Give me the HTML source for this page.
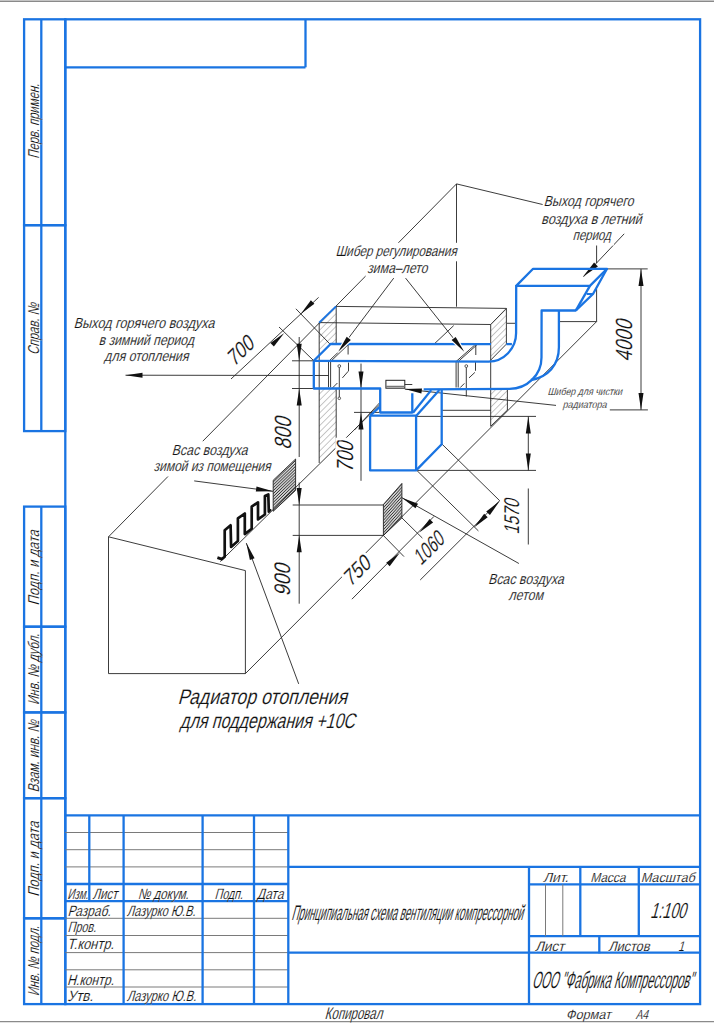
<!DOCTYPE html>
<html><head><meta charset="utf-8"><style>
html,body{margin:0;padding:0;background:#fff;width:714px;height:1024px;overflow:hidden}
svg{position:absolute;left:0;top:0}
text{font-family:"Liberation Sans",sans-serif;stroke:#fff;stroke-width:0.15px;paint-order:fill}
</style></head><body>
<svg width="714" height="1024" viewBox="0 0 714 1024">
<line x1="0" y1="1.3" x2="714" y2="1.3" stroke="#8a8a8a" stroke-width="1.4"/>
<line x1="0" y1="1021.6" x2="714" y2="1021.6" stroke="#8a8a8a" stroke-width="1.4"/>
<rect x="65.3" y="19.3" width="634.8000000000001" height="984.8000000000001" fill="none" stroke="#1a74e2" stroke-width="2.3"/>
<line x1="65.3" y1="67.3" x2="305.5" y2="67.3" stroke="#1a74e2" stroke-width="2.3"/>
<line x1="305.5" y1="19.3" x2="305.5" y2="67.3" stroke="#1a74e2" stroke-width="2.3"/>
<rect x="24.1" y="19.3" width="41.199999999999996" height="205.89999999999998" fill="none" stroke="#1a74e2" stroke-width="2.3"/>
<line x1="41.3" y1="19.3" x2="41.3" y2="225.2" stroke="#1a74e2" stroke-width="2.3"/>
<rect x="24.1" y="225.2" width="41.199999999999996" height="205.90000000000003" fill="none" stroke="#1a74e2" stroke-width="2.3"/>
<line x1="41.3" y1="225.2" x2="41.3" y2="431.1" stroke="#1a74e2" stroke-width="2.3"/>
<rect x="24.1" y="506.6" width="41.199999999999996" height="120.10000000000002" fill="none" stroke="#1a74e2" stroke-width="2.3"/>
<line x1="41.3" y1="506.6" x2="41.3" y2="626.7" stroke="#1a74e2" stroke-width="2.3"/>
<rect x="24.1" y="626.7" width="41.199999999999996" height="85.69999999999993" fill="none" stroke="#1a74e2" stroke-width="2.3"/>
<line x1="41.3" y1="626.7" x2="41.3" y2="712.4" stroke="#1a74e2" stroke-width="2.3"/>
<rect x="24.1" y="712.4" width="41.199999999999996" height="85.80000000000007" fill="none" stroke="#1a74e2" stroke-width="2.3"/>
<line x1="41.3" y1="712.4" x2="41.3" y2="798.2" stroke="#1a74e2" stroke-width="2.3"/>
<rect x="24.1" y="798.2" width="41.199999999999996" height="120.09999999999991" fill="none" stroke="#1a74e2" stroke-width="2.3"/>
<line x1="41.3" y1="798.2" x2="41.3" y2="918.3" stroke="#1a74e2" stroke-width="2.3"/>
<rect x="24.1" y="918.3" width="41.199999999999996" height="85.80000000000007" fill="none" stroke="#1a74e2" stroke-width="2.3"/>
<line x1="41.3" y1="918.3" x2="41.3" y2="1004.1" stroke="#1a74e2" stroke-width="2.3"/>
<line x1="65.3" y1="815.4" x2="700.1" y2="815.4" stroke="#1a74e2" stroke-width="2.3"/>
<line x1="65.3" y1="832.5" x2="288.3" y2="832.5" stroke="#7a7a7a" stroke-width="1"/>
<line x1="65.3" y1="849.7" x2="288.3" y2="849.7" stroke="#7a7a7a" stroke-width="1"/>
<line x1="65.3" y1="866.9" x2="288.3" y2="866.9" stroke="#7a7a7a" stroke-width="1"/>
<line x1="288.3" y1="866.9" x2="700.1" y2="866.9" stroke="#1a74e2" stroke-width="2.3"/>
<line x1="65.3" y1="884.0" x2="288.3" y2="884.0" stroke="#1a74e2" stroke-width="2.3"/>
<line x1="65.3" y1="901.2" x2="288.3" y2="901.2" stroke="#1a74e2" stroke-width="2.3"/>
<line x1="65.3" y1="918.3" x2="288.3" y2="918.3" stroke="#7a7a7a" stroke-width="1"/>
<line x1="65.3" y1="935.5" x2="288.3" y2="935.5" stroke="#7a7a7a" stroke-width="1"/>
<line x1="65.3" y1="952.6" x2="288.3" y2="952.6" stroke="#7a7a7a" stroke-width="1"/>
<line x1="65.3" y1="969.8" x2="288.3" y2="969.8" stroke="#7a7a7a" stroke-width="1"/>
<line x1="65.3" y1="987.0" x2="288.3" y2="987.0" stroke="#7a7a7a" stroke-width="1"/>
<line x1="123.6" y1="815.4" x2="123.6" y2="1004.1" stroke="#1a74e2" stroke-width="2.3"/>
<line x1="202.6" y1="815.4" x2="202.6" y2="1004.1" stroke="#1a74e2" stroke-width="2.3"/>
<line x1="254.0" y1="815.4" x2="254.0" y2="1004.1" stroke="#1a74e2" stroke-width="2.3"/>
<line x1="288.3" y1="815.4" x2="288.3" y2="1004.1" stroke="#1a74e2" stroke-width="2.3"/>
<line x1="89.3" y1="815.4" x2="89.3" y2="901.2" stroke="#1a74e2" stroke-width="2.3"/>
<line x1="288.3" y1="952.6" x2="700.1" y2="952.6" stroke="#1a74e2" stroke-width="2.3"/>
<line x1="529" y1="867.2" x2="529" y2="1004.5" stroke="#1a74e2" stroke-width="2.3"/>
<line x1="529" y1="884.3" x2="700.1" y2="884.3" stroke="#1a74e2" stroke-width="2.3"/>
<line x1="529" y1="936.2" x2="700.1" y2="936.2" stroke="#1a74e2" stroke-width="2.3"/>
<line x1="580.3" y1="867.2" x2="580.3" y2="936.2" stroke="#1a74e2" stroke-width="2.3"/>
<line x1="638.8" y1="867.2" x2="638.8" y2="936.2" stroke="#1a74e2" stroke-width="2.3"/>
<line x1="545.5" y1="884.3" x2="545.5" y2="936.2" stroke="#7a7a7a" stroke-width="1"/>
<line x1="562.8" y1="884.3" x2="562.8" y2="936.2" stroke="#7a7a7a" stroke-width="1"/>
<line x1="599.3" y1="936.2" x2="599.3" y2="953.3" stroke="#1a74e2" stroke-width="2.3"/>
<g transform="translate(38.6,158.1) rotate(-90)"><text x="-0.9" y="0.0" font-size="15.78" textLength="75.1" lengthAdjust="spacingAndGlyphs" fill="#111" transform="translate(-0.9,0.0) skewX(-15) translate(0.9,0.0)" >Перв. примен.</text></g>
<g transform="translate(38.6,353.7) rotate(-90)"><text x="-1.4" y="0.0" font-size="15.78" textLength="52.0" lengthAdjust="spacingAndGlyphs" fill="#111" transform="translate(-1.4,0.0) skewX(-15) translate(1.4,0.0)" >Справ. №</text></g>
<g transform="translate(38.6,604.3) rotate(-90)"><text x="-1.1" y="0.0" font-size="15.78" textLength="75.1" lengthAdjust="spacingAndGlyphs" fill="#111" transform="translate(-1.1,0.0) skewX(-15) translate(1.1,0.0)" >Подп. и дата</text></g>
<g transform="translate(38.6,703.9) rotate(-90)"><text x="-1.0" y="0.0" font-size="15.78" textLength="71.2" lengthAdjust="spacingAndGlyphs" fill="#111" transform="translate(-1.0,0.0) skewX(-15) translate(1.0,0.0)" >Инв. № дубл.</text></g>
<g transform="translate(38.6,791.4) rotate(-90)"><text x="-1.0" y="0.0" font-size="15.78" textLength="72.2" lengthAdjust="spacingAndGlyphs" fill="#111" transform="translate(-1.0,0.0) skewX(-15) translate(1.0,0.0)" >Взам. инв. №</text></g>
<g transform="translate(38.6,895.7) rotate(-90)"><text x="-1.1" y="0.0" font-size="15.78" textLength="75.1" lengthAdjust="spacingAndGlyphs" fill="#111" transform="translate(-1.1,0.0) skewX(-15) translate(1.1,0.0)" >Подп. и дата</text></g>
<g transform="translate(38.6,995.4) rotate(-90)"><text x="-0.9" y="0.0" font-size="15.78" textLength="70.2" lengthAdjust="spacingAndGlyphs" fill="#111" transform="translate(-0.9,0.0) skewX(-15) translate(0.9,0.0)" >Инв. № подл.</text></g>
<text x="67.2" y="899.3" font-size="15.08" textLength="20.8" lengthAdjust="spacingAndGlyphs" fill="#111" transform="translate(67.2,899.3) skewX(-15) translate(-67.2,-899.3)" >Изм.</text>
<text x="92.5" y="899.3" font-size="15.08" textLength="24.7" lengthAdjust="spacingAndGlyphs" fill="#111" transform="translate(92.5,899.3) skewX(-15) translate(-92.5,-899.3)" >Лист</text>
<text x="137.7" y="899.3" font-size="15.08" textLength="50.9" lengthAdjust="spacingAndGlyphs" fill="#111" transform="translate(137.7,899.3) skewX(-15) translate(-137.7,-899.3)" >№ докум.</text>
<text x="214.5" y="899.3" font-size="15.08" textLength="28.2" lengthAdjust="spacingAndGlyphs" fill="#111" transform="translate(214.5,899.3) skewX(-15) translate(-214.5,-899.3)" >Подп.</text>
<text x="256.8" y="899.3" font-size="15.08" textLength="26.5" lengthAdjust="spacingAndGlyphs" fill="#111" transform="translate(256.8,899.3) skewX(-15) translate(-256.8,-899.3)" >Дата</text>
<text x="67.4" y="915.7" font-size="15.08" textLength="43.2" lengthAdjust="spacingAndGlyphs" fill="#111" transform="translate(67.4,915.7) skewX(-15) translate(-67.4,-915.7)" >Разраб.</text>
<text x="126.7" y="915.7" font-size="15.08" textLength="68.7" lengthAdjust="spacingAndGlyphs" fill="#111" transform="translate(126.7,915.7) skewX(-15) translate(-126.7,-915.7)" >Лазурко Ю.В.</text>
<text x="67.5" y="932.5" font-size="15.08" textLength="28.5" lengthAdjust="spacingAndGlyphs" fill="#111" transform="translate(67.5,932.5) skewX(-15) translate(-67.5,-932.5)" >Пров.</text>
<text x="67.1" y="949.3" font-size="15.08" textLength="46.8" lengthAdjust="spacingAndGlyphs" fill="#111" transform="translate(67.1,949.3) skewX(-15) translate(-67.1,-949.3)" >Т.контр.</text>
<text x="67.0" y="984.7" font-size="15.08" textLength="46.8" lengthAdjust="spacingAndGlyphs" fill="#111" transform="translate(67.0,984.7) skewX(-15) translate(-67.0,-984.7)" >Н.контр.</text>
<text x="67.3" y="1001.5" font-size="15.08" textLength="25.8" lengthAdjust="spacingAndGlyphs" fill="#111" transform="translate(67.3,1001.5) skewX(-15) translate(-67.3,-1001.5)" >Утв.</text>
<text x="126.7" y="1001.5" font-size="15.08" textLength="69.4" lengthAdjust="spacingAndGlyphs" fill="#111" transform="translate(126.7,1001.5) skewX(-15) translate(-126.7,-1001.5)" >Лазурко Ю.В.</text>
<text x="291.2" y="919.8" font-size="21.37" textLength="231.5" lengthAdjust="spacingAndGlyphs" fill="#111" transform="translate(291.2,919.8) skewX(-15) translate(-291.2,-919.8)" >Принципиальная схема вентиляции компрессорной</text>
<text x="543.0" y="881.7" font-size="13.27" textLength="25.4" lengthAdjust="spacingAndGlyphs" fill="#111" transform="translate(543.0,881.7) skewX(-15) translate(-543.0,-881.7)" >Лит.</text>
<text x="590.2" y="881.7" font-size="13.27" textLength="35.2" lengthAdjust="spacingAndGlyphs" fill="#111" transform="translate(590.2,881.7) skewX(-15) translate(-590.2,-881.7)" >Масса</text>
<text x="640.7" y="881.7" font-size="13.27" textLength="54.1" lengthAdjust="spacingAndGlyphs" fill="#111" transform="translate(640.7,881.7) skewX(-15) translate(-640.7,-881.7)" >Масштаб</text>
<text x="650.1" y="918.4" font-size="21.93" textLength="35.7" lengthAdjust="spacingAndGlyphs" fill="#111" transform="translate(650.1,918.4) skewX(-15) translate(-650.1,-918.4)" >1:100</text>
<text x="534.9" y="950.7" font-size="13.97" textLength="29.4" lengthAdjust="spacingAndGlyphs" fill="#111" transform="translate(534.9,950.7) skewX(-15) translate(-534.9,-950.7)" >Лист</text>
<text x="608.2" y="950.7" font-size="13.97" textLength="41.2" lengthAdjust="spacingAndGlyphs" fill="#111" transform="translate(608.2,950.7) skewX(-15) translate(-608.2,-950.7)" >Листов</text>
<text x="678.1" y="950.7" font-size="13.97" textLength="6.0" lengthAdjust="spacingAndGlyphs" fill="#111" transform="translate(678.1,950.7) skewX(-15) translate(-678.1,-950.7)" >1</text>
<text x="531.7" y="988.4" font-size="23.74" textLength="161.1" lengthAdjust="spacingAndGlyphs" fill="#111" transform="translate(531.7,988.4) skewX(-15) translate(-531.7,-988.4)" >ООО &quot;Фабрика Компрессоров&quot;</text>
<text x="324.6" y="1018.6" font-size="16.76" textLength="57.6" lengthAdjust="spacingAndGlyphs" fill="#111" transform="translate(324.6,1018.6) skewX(-15) translate(-324.6,-1018.6)" >Копировал</text>
<text x="565.8" y="1018.8" font-size="13.27" textLength="44.9" lengthAdjust="spacingAndGlyphs" fill="#111" transform="translate(565.8,1018.8) skewX(-15) translate(-565.8,-1018.8)" >Формат</text>
<text x="635.5" y="1018.8" font-size="13.27" textLength="12.4" lengthAdjust="spacingAndGlyphs" fill="#111" transform="translate(635.5,1018.8) skewX(-15) translate(-635.5,-1018.8)" >А4</text>
<defs><pattern id="h1" patternUnits="userSpaceOnUse" width="4.5" height="4.5" patternTransform="rotate(45)"><line x1="0" y1="0" x2="0" y2="4.5" stroke="#7a7a7a" stroke-width="0.85"/></pattern><pattern id="h2" patternUnits="userSpaceOnUse" width="10" height="2.1" patternTransform="rotate(-44)"><line x1="0" y1="1" x2="10" y2="1" stroke="#333" stroke-width="1.05"/></pattern><pattern id="h3" patternUnits="userSpaceOnUse" width="10" height="2.1" patternTransform="rotate(-48)"><line x1="0" y1="1" x2="10" y2="1" stroke="#333" stroke-width="1.05"/></pattern></defs>
<polygon points="319.2,322.6 336.2,306.4 336.2,447 319.2,463" fill="url(#h1)"/>
<polygon points="490.7,324.5 506.4,308.4 506.4,344.1 490.7,360.1" fill="url(#h1)"/>
<polygon points="490.7,389 507.4,389 507.4,410.3 490.7,426.3" fill="url(#h1)"/>
<line x1="336.2" y1="306.4" x2="336.2" y2="447" stroke="#262626" stroke-width="0.9"/>
<polygon points="313.8,360.8 330.6,344 491,344.1 490.7,361.6 313.8,361.6" fill="#fff"/>
<rect x="313.8" y="360.8" width="176.9" height="27.7" fill="#fff"/>
<line x1="108.5" y1="536.8" x2="245.4" y2="570.6" stroke="#262626" stroke-width="0.9"/>
<line x1="108.5" y1="536.8" x2="108.5" y2="673.6" stroke="#262626" stroke-width="0.9"/>
<line x1="108.5" y1="673.6" x2="245.4" y2="673.6" stroke="#262626" stroke-width="0.9"/>
<line x1="245.4" y1="570.6" x2="245.4" y2="673.6" stroke="#262626" stroke-width="0.9"/>
<line x1="108.5" y1="536.8" x2="456.5" y2="183.9" stroke="#262626" stroke-width="0.9"/>
<line x1="456.5" y1="183.9" x2="456.5" y2="306.7" stroke="#262626" stroke-width="0.9"/>
<line x1="456.5" y1="183.9" x2="543.4" y2="204.7" stroke="#262626" stroke-width="0.9"/>
<line x1="596.6" y1="245" x2="596.6" y2="263" stroke="#262626" stroke-width="0.9"/>
<line x1="596.6" y1="289" x2="596.6" y2="321.6" stroke="#262626" stroke-width="0.9"/>
<line x1="559" y1="321.6" x2="596.6" y2="321.6" stroke="#262626" stroke-width="0.9"/>
<line x1="245.4" y1="673.6" x2="596.6" y2="321.6" stroke="#262626" stroke-width="0.9"/>
<line x1="220.3" y1="561.6" x2="381" y2="403.5" stroke="#262626" stroke-width="0.9"/>
<line x1="319.2" y1="322.6" x2="490.7" y2="324.5" stroke="#262626" stroke-width="0.9"/>
<line x1="336" y1="306.4" x2="506.4" y2="308.4" stroke="#262626" stroke-width="0.9"/>
<line x1="319.2" y1="322.6" x2="319.2" y2="463" stroke="#262626" stroke-width="0.9"/>
<line x1="434.8" y1="343.4" x2="453.7" y2="325.6" stroke="#262626" stroke-width="0.9"/>
<line x1="490.7" y1="324.5" x2="490.7" y2="426.3" stroke="#262626" stroke-width="0.9"/>
<line x1="490.7" y1="324.5" x2="506.4" y2="308.4" stroke="#262626" stroke-width="0.9"/>
<line x1="506.4" y1="308.4" x2="506.4" y2="344.1" stroke="#262626" stroke-width="0.9"/>
<line x1="506.4" y1="344.1" x2="490.7" y2="360.1" stroke="#262626" stroke-width="0.9"/>
<line x1="507.4" y1="389" x2="507.4" y2="410.3" stroke="#262626" stroke-width="0.9"/>
<line x1="490.7" y1="426.3" x2="507.4" y2="410.3" stroke="#262626" stroke-width="0.9"/>
<line x1="507" y1="323.3" x2="516" y2="323.3" stroke="#262626" stroke-width="0.9"/>
<line x1="441.7" y1="410.3" x2="490.7" y2="410.3" stroke="#262626" stroke-width="0.9"/>
<line x1="416.1" y1="416.4" x2="536" y2="416.4" stroke="#262626" stroke-width="0.9"/>
<line x1="416.8" y1="470.4" x2="536" y2="470.4" stroke="#262626" stroke-width="0.9"/>
<line x1="354.4" y1="430" x2="379.6" y2="402.8" stroke="#262626" stroke-width="0.9"/>
<line x1="231" y1="379" x2="318.6" y2="297.4" stroke="#262626" stroke-width="0.9"/>
<line x1="279" y1="327" x2="313.7" y2="360.7" stroke="#262626" stroke-width="0.9"/>
<line x1="295.9" y1="308.8" x2="330.4" y2="344.5" stroke="#262626" stroke-width="0.9"/>
<polygon points="284.3,333.0 273.9,346.6 270.4,343.1" fill="#111"/>
<polygon points="300.7,314.0 310.9,300.2 314.4,303.7" fill="#111"/>
<line x1="299.2" y1="337" x2="299.2" y2="457" stroke="#262626" stroke-width="0.9"/>
<line x1="299.2" y1="482.5" x2="299.2" y2="603.7" stroke="#262626" stroke-width="0.9"/>
<polygon points="299.2,360.8 296.7,343.8 301.7,343.8" fill="#111"/>
<polygon points="299.2,388.5 301.7,405.5 296.7,405.5" fill="#111"/>
<polygon points="299.2,505.0 296.7,488.0 301.7,488.0" fill="#111"/>
<polygon points="299.2,535.2 301.7,552.2 296.7,552.2" fill="#111"/>
<line x1="292" y1="360.8" x2="313.8" y2="360.8" stroke="#262626" stroke-width="0.9"/>
<line x1="292" y1="388.5" x2="313.8" y2="388.5" stroke="#262626" stroke-width="0.9"/>
<line x1="292.7" y1="505" x2="383.4" y2="505" stroke="#262626" stroke-width="0.9"/>
<line x1="292.7" y1="535.4" x2="383.4" y2="535.4" stroke="#262626" stroke-width="0.9"/>
<line x1="361" y1="363.6" x2="361" y2="480.8" stroke="#262626" stroke-width="0.9"/>
<polygon points="361.0,388.5 358.5,371.5 363.5,371.5" fill="#111"/>
<polygon points="361.0,412.6 363.5,429.6 358.5,429.6" fill="#111"/>
<line x1="354" y1="412.4" x2="379.6" y2="412.4" stroke="#262626" stroke-width="0.9"/>
<line x1="606.3" y1="268.9" x2="647.7" y2="268.9" stroke="#262626" stroke-width="0.9"/>
<line x1="641" y1="268.9" x2="641" y2="409.9" stroke="#262626" stroke-width="0.9"/>
<polygon points="641.0,268.9 643.5,285.9 638.5,285.9" fill="#111"/>
<polygon points="641.0,409.9 638.5,392.9 643.5,392.9" fill="#111"/>
<line x1="609.8" y1="409.9" x2="647.9" y2="409.9" stroke="#262626" stroke-width="0.9"/>
<line x1="528.3" y1="416.4" x2="528.3" y2="470.4" stroke="#262626" stroke-width="0.9"/>
<polygon points="528.3,416.4 530.8,433.4 525.8,433.4" fill="#111"/>
<polygon points="528.3,470.4 525.8,453.4 530.8,453.4" fill="#111"/>
<line x1="528.3" y1="488.5" x2="528.3" y2="544.5" stroke="#262626" stroke-width="0.9"/>
<line x1="442.1" y1="444.2" x2="499.7" y2="500.7" stroke="#262626" stroke-width="0.9"/>
<line x1="499.7" y1="500.7" x2="420.2" y2="580" stroke="#262626" stroke-width="0.9"/>
<polygon points="499.7,501.0 489.9,515.1 486.2,511.6" fill="#111"/>
<polygon points="474.0,527.6 484.2,513.8 487.7,517.3" fill="#111"/>
<line x1="416.8" y1="470.4" x2="478.4" y2="530.9" stroke="#262626" stroke-width="0.9"/>
<line x1="351.9" y1="599.2" x2="434" y2="516.4" stroke="#262626" stroke-width="0.9"/>
<polygon points="400.0,552.4 389.7,566.2 386.2,562.7" fill="#111"/>
<polygon points="419.3,532.6 429.6,518.9 433.1,522.4" fill="#111"/>
<line x1="383.4" y1="535.5" x2="404" y2="556.6" stroke="#262626" stroke-width="0.9"/>
<line x1="401.9" y1="517.9" x2="422.4" y2="538.1" stroke="#262626" stroke-width="0.9"/>
<line x1="125.5" y1="375.2" x2="328.5" y2="375.5" stroke="#262626" stroke-width="0.9"/>
<polygon points="125.5,375.2 142.5,372.7 142.5,377.7" fill="#111"/>
<line x1="393.9" y1="277.9" x2="338.2" y2="351.8" stroke="#262626" stroke-width="0.9"/>
<polygon points="338.2,351.8 346.8,336.9 350.7,340.0" fill="#111"/>
<line x1="405.4" y1="277.9" x2="464.2" y2="351.8" stroke="#262626" stroke-width="0.9"/>
<polygon points="464.2,351.8 451.7,340.0 455.6,336.9" fill="#111"/>
<line x1="624.2" y1="233.8" x2="583.5" y2="276.8" stroke="#262626" stroke-width="0.9"/>
<polygon points="582.9,276.8 594.1,262.4 597.9,266.5" fill="#111"/>
<line x1="194.2" y1="480.9" x2="273" y2="491.3" stroke="#262626" stroke-width="0.9"/>
<polygon points="273.0,491.3 255.8,491.5 256.5,486.6" fill="#111"/>
<line x1="298.7" y1="683.9" x2="246.3" y2="543.1" stroke="#262626" stroke-width="0.9"/>
<polygon points="246.3,543.1 254.6,558.2 249.9,559.9" fill="#111"/>
<line x1="518.9" y1="563.5" x2="401.9" y2="497.7" stroke="#262626" stroke-width="0.9"/>
<polygon points="401.9,497.7 418.0,503.8 415.5,508.2" fill="#111"/>
<line x1="404.8" y1="389.1" x2="556" y2="405.4" stroke="#262626" stroke-width="0.9"/>
<polygon points="404.8,389.1 422.0,388.4 421.4,393.4" fill="#111"/>
<polygon points="273.2,480.3 295.6,459 295.6,490.4 273.2,511.3" fill="url(#h2)" stroke="#222" stroke-width="0.9"/>
<polygon points="383.4,504.5 401.9,483.4 401.9,517.9 383.4,535.5" fill="url(#h3)" stroke="#222" stroke-width="0.9"/>
<path d="M217.4,557.6 L221.8,559.1 L224.7,556.7 L224.7,530.2 L230.6,525.3 L231.1,546.9 L237.9,541 L237.9,518.4 L244.8,513.5 L244.8,534.1 L251.7,528.7 L251.7,506.7 L258,502.3 L258,519.4 L264.9,514.5 L264.9,495.9 L268.3,494.4 L268.8,511.6 L270.8,509.1" stroke="#111" stroke-width="2.7" fill="none" stroke-linejoin="round"/>
<line x1="330.6" y1="361.5" x2="348.8" y2="344" stroke="#262626" stroke-width="0.9"/>
<line x1="328.5" y1="361.5" x2="346.8" y2="344" stroke="#262626" stroke-width="0.9"/>
<line x1="328.5" y1="361.5" x2="328.5" y2="387.4" stroke="#262626" stroke-width="0.9"/>
<line x1="330.6" y1="361.5" x2="330.6" y2="387.4" stroke="#262626" stroke-width="0.9"/>
<line x1="348.1" y1="344" x2="348.1" y2="354.5" stroke="#262626" stroke-width="0.9"/>
<line x1="332.4" y1="388" x2="337.4" y2="383" stroke="#262626" stroke-width="0.9"/>
<line x1="348.5" y1="362.5" x2="348.5" y2="371" stroke="#262626" stroke-width="0.9"/>
<line x1="348.3" y1="371.2" x2="342.4" y2="377.9" stroke="#262626" stroke-width="0.9"/>
<circle cx="339.3" cy="366.1" r="1.4" fill="none" stroke="#333" stroke-width="0.8"/>
<line x1="339.3" y1="367.5" x2="339.3" y2="397" stroke="#262626" stroke-width="0.9"/>
<circle cx="339.3" cy="398.3" r="1.3" fill="none" stroke="#333" stroke-width="0.8"/>
<line x1="456.1" y1="361.5" x2="474.7" y2="345.1" stroke="#262626" stroke-width="0.9"/>
<line x1="458.2" y1="361.5" x2="476.7" y2="345.1" stroke="#262626" stroke-width="0.9"/>
<line x1="456.1" y1="361.5" x2="456.1" y2="387.5" stroke="#262626" stroke-width="0.9"/>
<line x1="458.2" y1="361.5" x2="458.2" y2="387.5" stroke="#262626" stroke-width="0.9"/>
<line x1="475.8" y1="345" x2="475.8" y2="355" stroke="#262626" stroke-width="0.9"/>
<line x1="460.2" y1="387.6" x2="464.4" y2="383.4" stroke="#262626" stroke-width="0.9"/>
<line x1="469" y1="377.9" x2="474.9" y2="372.4" stroke="#262626" stroke-width="0.9"/>
<line x1="475.5" y1="362" x2="475.5" y2="370.8" stroke="#262626" stroke-width="0.9"/>
<circle cx="466.3" cy="366.1" r="1.4" fill="none" stroke="#333" stroke-width="0.8"/>
<line x1="466.3" y1="367.5" x2="466.3" y2="396.5" stroke="#262626" stroke-width="0.9"/>
<rect x="385.9" y="380.3" width="18.9" height="7.9" fill="#fff" stroke="#222" stroke-width="1"/>
<line x1="386" y1="386.5" x2="404.8" y2="386.5" stroke="#777" stroke-width="1.5"/>
<line x1="404.8" y1="384.5" x2="412.3" y2="384.5" stroke="#262626" stroke-width="0.9"/>
<path d="M313.8,360.8 L330.6,344 L491,344.1" stroke="#1a74e2" stroke-width="2.3" fill="none" stroke-linejoin="round"/>
<path d="M 506.4,344.1 L 511.9,344.1" stroke="#1a74e2" stroke-width="2.3" fill="none" stroke-linejoin="round"/>
<path d="M 313.8,360.8 L 488.5,361.6 A 27.6,28.6 0 0 0 516.1,333 L 516.2,285" stroke="#1a74e2" stroke-width="2.3" fill="none" stroke-linejoin="round"/>
<path d="M313.8,360.8 L313.8,388.5 L380.2,388.5 L380.2,412.5 L412.3,412.5 L412.3,393.3" stroke="#1a74e2" stroke-width="2.3" fill="none" stroke-linejoin="round"/>
<path d="M 423.7,389.3 L 509.6,388.8 A 31.9,31.4 0 0 0 541.5,357.4 L 541.6,310.5 L 576.3,310.5" stroke="#1a74e2" stroke-width="2.3" fill="none" stroke-linejoin="round"/>
<path d="M 558.9,310.5 L 558.9,347.3 C 558.9,365 548,377 530.9,380" stroke="#1a74e2" stroke-width="2.3" fill="none" stroke-linejoin="round"/>
<path d="M516.2,285.9 L533.1,268.8 L607,268.8 L589.9,285.9 L516.2,285.9" stroke="#1a74e2" stroke-width="2.3" fill="none" stroke-linejoin="round"/>
<path d="M589.9,285.9 L575.9,310.4" stroke="#1a74e2" stroke-width="2.3" fill="none" stroke-linejoin="round"/>
<path d="M607,268.8 L593,294 L575.9,310.4" stroke="#1a74e2" stroke-width="2.3" fill="none" stroke-linejoin="round"/>
<path d="M586.7,294 L593,294" stroke="#1a74e2" stroke-width="2" fill="none" stroke-linejoin="round"/>
<line x1="413" y1="412.8" x2="431.2" y2="390.1" stroke="#1a74e2" stroke-width="2.3"/>
<line x1="416.1" y1="416" x2="439.4" y2="390.1" stroke="#1a74e2" stroke-width="2.3"/>
<path d="M370.1,415.6 L416.1,415.6 L416.1,470.4 L370.1,470.4 L370.1,415.6" stroke="#1a74e2" stroke-width="2.3" fill="none" stroke-linejoin="round"/>
<path d="M370.1,415.6 L379.5,407.2" stroke="#1a74e2" stroke-width="2.3" fill="none" stroke-linejoin="round"/>
<path d="M416.1,470.4 L441.7,444.2 L441.7,390" stroke="#1a74e2" stroke-width="2.3" fill="none" stroke-linejoin="round"/>
<line x1="319.2" y1="322.6" x2="336" y2="306.4" stroke="#1a74e2" stroke-width="2"/>
<polygon points="338.2,351.8 346.7,336.8 350.8,340.1" fill="#fff" stroke="#fff" stroke-width="2.2" stroke-linejoin="round"/>
<polygon points="338.2,351.8 346.7,336.8 350.8,340.1" fill="#111"/>
<polygon points="464.2,351.8 451.6,340.1 455.7,336.9" fill="#fff" stroke="#fff" stroke-width="2.2" stroke-linejoin="round"/>
<polygon points="464.2,351.8 451.6,340.1 455.7,336.9" fill="#111"/>
<rect x="72.6" y="315.0" width="144.4" height="18.5" fill="#fff"/>
<text x="73.6" y="328.5" font-size="14.66" textLength="140.7" lengthAdjust="spacingAndGlyphs" fill="#111" transform="translate(73.6,328.5) skewX(-15) translate(-73.6,-328.5)" >Выход горячего воздуха</text>
<rect x="97.4" y="331.8" width="99.6" height="18.5" fill="#fff"/>
<text x="98.5" y="345.3" font-size="14.66" textLength="95.3" lengthAdjust="spacingAndGlyphs" fill="#111" transform="translate(98.5,345.3) skewX(-15) translate(-98.5,-345.3)" >в зимний период</text>
<rect x="101.6" y="348.0" width="90.1" height="18.5" fill="#fff"/>
<text x="104.1" y="361.5" font-size="14.66" textLength="84.2" lengthAdjust="spacingAndGlyphs" fill="#111" transform="translate(104.1,361.5) skewX(-15) translate(-104.1,-361.5)" >для отопления</text>
<rect x="334.4" y="242.8" width="125.60000000000002" height="18.5" fill="#fff"/>
<text x="335.4" y="256.3" font-size="14.66" textLength="121.2" lengthAdjust="spacingAndGlyphs" fill="#111" transform="translate(335.4,256.3) skewX(-15) translate(-335.4,-256.3)" >Шибер регулирования</text>
<rect x="365.6" y="259.6" width="64.89999999999998" height="18.5" fill="#fff"/>
<text x="367.0" y="273.1" font-size="14.66" textLength="60.4" lengthAdjust="spacingAndGlyphs" fill="#111" transform="translate(367.0,273.1) skewX(-15) translate(-367.0,-273.1)" >зима–лето</text>
<rect x="542.6" y="192.9" width="93.69999999999993" height="18.5" fill="#fff"/>
<text x="543.6" y="206.4" font-size="14.66" textLength="89.7" lengthAdjust="spacingAndGlyphs" fill="#111" transform="translate(543.6,206.4) skewX(-15) translate(-543.6,-206.4)" >Выход горячего</text>
<rect x="540" y="210.2" width="105.20000000000005" height="18.5" fill="#fff"/>
<text x="541.1" y="223.7" font-size="14.66" textLength="100.5" lengthAdjust="spacingAndGlyphs" fill="#111" transform="translate(541.1,223.7) skewX(-15) translate(-541.1,-223.7)" >воздуха в летний</text>
<rect x="571.3" y="227.0" width="42.60000000000002" height="18.5" fill="#fff"/>
<text x="572.5" y="240.5" font-size="14.66" textLength="38.1" lengthAdjust="spacingAndGlyphs" fill="#111" transform="translate(572.5,240.5) skewX(-15) translate(-572.5,-240.5)" >период</text>
<rect x="546.2" y="384.90000000000003" width="78.59999999999991" height="15.4" fill="#fff"/>
<text x="547.5" y="395.3" font-size="10.34" textLength="74.4" lengthAdjust="spacingAndGlyphs" fill="#111" transform="translate(547.5,395.3) skewX(-15) translate(-547.5,-395.3)" >Шибер для чистки</text>
<rect x="560.7" y="397.20000000000005" width="48.39999999999998" height="15.4" fill="#fff"/>
<text x="562.6" y="407.6" font-size="10.34" textLength="44.0" lengthAdjust="spacingAndGlyphs" fill="#111" transform="translate(562.6,407.6) skewX(-15) translate(-562.6,-407.6)" >радиатора</text>
<rect x="170.6" y="441.2" width="79.6" height="18.5" fill="#fff"/>
<text x="171.6" y="454.7" font-size="14.66" textLength="75.9" lengthAdjust="spacingAndGlyphs" fill="#111" transform="translate(171.6,454.7) skewX(-15) translate(-171.6,-454.7)" >Всас воздуха</text>
<rect x="152.1" y="458.0" width="121.70000000000002" height="18.5" fill="#fff"/>
<text x="153.5" y="471.5" font-size="14.66" textLength="117.0" lengthAdjust="spacingAndGlyphs" fill="#111" transform="translate(153.5,471.5) skewX(-15) translate(-153.5,-471.5)" >зимой из помещения</text>
<rect x="486.9" y="570.2" width="79.5" height="18.5" fill="#fff"/>
<text x="487.9" y="583.7" font-size="14.66" textLength="75.8" lengthAdjust="spacingAndGlyphs" fill="#111" transform="translate(487.9,583.7) skewX(-15) translate(-487.9,-583.7)" >Всас воздуха</text>
<rect x="506.3" y="587.0" width="39.900000000000034" height="18.5" fill="#fff"/>
<text x="508.3" y="600.5" font-size="14.66" textLength="34.6" lengthAdjust="spacingAndGlyphs" fill="#111" transform="translate(508.3,600.5) skewX(-15) translate(-508.3,-600.5)" >летом</text>
<rect x="177.1" y="686.3" width="173.50000000000003" height="23.2" fill="#fff"/>
<text x="177.6" y="704.5" font-size="21.23" textLength="169.1" lengthAdjust="spacingAndGlyphs" fill="#111" transform="translate(177.6,704.5) skewX(-15) translate(-177.6,-704.5)" >Радиатор отопления</text>
<rect x="177.1" y="710.3" width="182.1" height="23.2" fill="#fff"/>
<text x="179.8" y="728.5" font-size="21.23" textLength="174.9" lengthAdjust="spacingAndGlyphs" fill="#111" transform="translate(179.8,728.5) skewX(-15) translate(-179.8,-728.5)" >для поддержания +10С</text>
<rect x="273.2" y="413.3" width="18.80000000000001" height="36.80000000000001" fill="#fff"/>
<g transform="translate(291.0,448.1) rotate(-90)"><text x="-1.6" y="0.0" font-size="23.46" textLength="32.0" lengthAdjust="spacingAndGlyphs" fill="#111" transform="translate(-1.6,0.0) skewX(-15) translate(1.6,0.0)" >800</text></g>
<rect x="272.6" y="560.1" width="18.099999999999966" height="36.5" fill="#fff"/>
<g transform="translate(289.7,594.6) rotate(-90)"><text x="-1.8" y="0.0" font-size="22.49" textLength="32.1" lengthAdjust="spacingAndGlyphs" fill="#111" transform="translate(-1.8,0.0) skewX(-15) translate(1.8,0.0)" >900</text></g>
<rect x="335.4" y="437.7" width="18.80000000000001" height="33.400000000000034" fill="#fff"/>
<g transform="translate(353.2,469.1) rotate(-90)"><text x="-3.3" y="0.0" font-size="23.46" textLength="30.2" lengthAdjust="spacingAndGlyphs" fill="#111" transform="translate(-3.3,0.0) skewX(-15) translate(3.3,0.0)" >700</text></g>
<rect x="614.4" y="316" width="18.800000000000068" height="46.60000000000002" fill="#fff"/>
<g transform="translate(632.2,360.6) rotate(-90)"><text x="-1.2" y="0.0" font-size="23.46" textLength="41.3" lengthAdjust="spacingAndGlyphs" fill="#111" transform="translate(-1.2,0.0) skewX(-15) translate(1.2,0.0)" >4000</text></g>
<rect x="502.5" y="495.3" width="17.299999999999955" height="39.900000000000034" fill="#fff"/>
<g transform="translate(518.8,533.2) rotate(-90)"><text x="-1.3" y="0.0" font-size="21.37" textLength="34.8" lengthAdjust="spacingAndGlyphs" fill="#111" transform="translate(-1.3,0.0) skewX(-15) translate(1.3,0.0)" >1570</text></g>
<g transform="translate(241.3,348.8) rotate(-45)"><rect x="-16.5" y="-9.75" width="33" height="19.5" fill="#fff"/></g>
<g transform="translate(241.3,348.8) rotate(-45)"><text x="-17.8" y="7.8" font-size="21.65" textLength="30.1" lengthAdjust="spacingAndGlyphs" fill="#111" transform="translate(-17.8,7.8) skewX(-15) translate(17.8,-7.8)" >700</text></g>
<g transform="translate(357.8,568.8) rotate(-45)"><rect x="-16.75" y="-9.75" width="33.5" height="19.5" fill="#fff"/></g>
<g transform="translate(357.8,568.8) rotate(-45)"><text x="-18.1" y="7.8" font-size="21.65" textLength="30.7" lengthAdjust="spacingAndGlyphs" fill="#111" transform="translate(-18.1,7.8) skewX(-15) translate(18.1,-7.8)" >750</text></g>
<g transform="translate(429.2,546.9) rotate(-45)"><rect x="-20.0" y="-9.75" width="40" height="19.5" fill="#fff"/></g>
<g transform="translate(429.2,546.9) rotate(-45)"><text x="-19.3" y="7.8" font-size="21.65" textLength="34.8" lengthAdjust="spacingAndGlyphs" fill="#111" transform="translate(-19.3,7.8) skewX(-15) translate(19.3,-7.8)" >1060</text></g>
</svg>
</body></html>
